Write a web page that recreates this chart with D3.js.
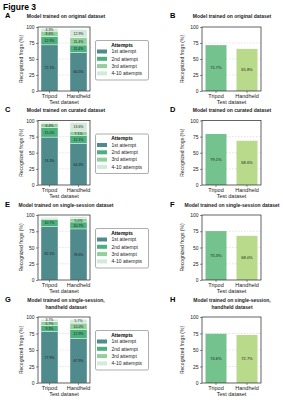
<!DOCTYPE html>
<html>
<head>
<meta charset="utf-8">
<script src="https://cdn.jsdelivr.net/npm/d3@7"></script>
<style>
  body { margin: 0; background: #fff; }
  svg { display: block; font-family: "Liberation Sans", Arial, sans-serif; }
</style>
</head>
<body>
<div id="chart"></div>
<script>
// data
const testSets = ["Tripod", "Handheld"];
const attempts = ["1st attempt", "2nd attempt", "3rd attempt", "4-10 attempts"];
const yTicks = [0, 25, 50, 75, 100];

// stacked: [1st, 2nd, 3rd, 4-10] per test set
const originalStacked = [[72.1, 12.9, 8.6, 4.3], [60.5, 11.4, 11.4, 12.9]];
const curatedStacked = [[74.3, 15.0, 6.4, 1.7], [64.3, 12.1, 7.1, 13.6]];
const sessionStacked = [[82.1, 10.7, 2.1, 1.5], [78.6, 10.7, 5.0, 2.9]];
const handheldStacked = [[77.9, 9.3, 5.7, 3.7], [67.9, 12.9, 10.0, 5.7]];

// totals
const originalTotal = [71.7, 65.8];
const curatedTotal = [79.1, 68.6];
const sessionTotal = [75.3, 68.0];
const handheldTotal = [74.6, 72.7];

const titleOriginal = ["Model trained on original dataset"];
const titleCurated = ["Model trained on curated dataset"];
const titleSession = ["Model trained on single-session dataset"];
const titleHandheld = ["Model trained on single-session,", "handheld dataset"];

const attemptColors = ["#4f8b8d", "#4cb07c", "#90d09b", "#d3e9da"];
const setColors = ["#74c38e", "#b9da8a"];

const W = 283, H = 400;
const svg = d3.select("#chart").append("svg")
  .attr("width", W).attr("height", H);

svg.append("text")
  .attr("x", 3).attr("y", 10)
  .attr("font-size", 8.5).attr("font-weight", "bold")
  .text("Figure 3");

const rows = [
  {labels: ["A", "B"], titles: titleOriginal, stacked: originalStacked, totals: originalTotal, top: 27, bottom: 91, titleY: 17.5},
  {labels: ["C", "D"], titles: titleCurated, stacked: curatedStacked, totals: curatedTotal, top: 120.5, bottom: 185, titleY: 111.5},
  {labels: ["E", "F"], titles: titleSession, stacked: sessionStacked, totals: sessionTotal, top: 215, bottom: 280, titleY: 206.5},
  {labels: ["G", "H"], titles: titleHandheld, stacked: handheldStacked, totals: handheldTotal, top: 317, bottom: 383, titleY: 301.5}
];

const fmt = v => v.toFixed(1) + "%";

function frame(g, x0, x1, r) {
  const y = d3.scaleLinear().domain([0, 100]).range([r.bottom, r.top]);
  g.selectAll(".grid").data([25, 50, 75]).enter().append("line")
    .attr("x1", x0).attr("x2", x1)
    .attr("y1", d => y(d)).attr("y2", d => y(d))
    .attr("stroke", "#c8c8c8").attr("stroke-width", 0.5)
    .attr("stroke-dasharray", "1.5,1.5");
  return y;
}

function axes(g, x, y, x0, x1, r, axLabelX) {
  const yAxis = g.append("g")
    .attr("transform", `translate(${x0},0)`)
    .call(d3.axisLeft(y).tickValues(yTicks).tickSize(2).tickPadding(1.5));
  yAxis.select(".domain").remove();
  yAxis.selectAll("line").attr("stroke", "#222").attr("stroke-width", 0.5);
  yAxis.selectAll("text").attr("font-size", 5).attr("fill", "#222");

  const xAxis = g.append("g")
    .attr("transform", `translate(0,${r.bottom})`)
    .call(d3.axisBottom(x).tickSize(2).tickPadding(1));
  xAxis.select(".domain").remove();
  xAxis.selectAll("line").attr("stroke", "#222").attr("stroke-width", 0.5);
  xAxis.selectAll("text").attr("font-size", 5.5).attr("fill", "#222");

  g.append("rect")
    .attr("x", x0).attr("y", r.top)
    .attr("width", x1 - x0).attr("height", r.bottom - r.top)
    .attr("fill", "none").attr("stroke", "#222").attr("stroke-width", 0.7);

  g.append("text")
    .attr("transform", `translate(${axLabelX},${(r.top + r.bottom) / 2}) rotate(-90)`)
    .attr("text-anchor", "middle").attr("font-size", 5).attr("fill", "#222")
    .text("Recognized frogs (%)");

  g.append("text")
    .attr("x", (x0 + x1) / 2).attr("y", r.bottom + 12.5)
    .attr("text-anchor", "middle").attr("font-size", 5.5).attr("fill", "#222")
    .text("Test dataset");
}

function titleBlock(g, cx, r, labelX, label) {
  g.append("text")
    .attr("x", labelX).attr("y", r.titleY + 0.5)
    .attr("font-size", 7.5).attr("font-weight", "bold")
    .text(label);
  r.titles.forEach((t, i) => {
    g.append("text")
      .attr("x", cx).attr("y", r.titleY + i * 7.5)
      .attr("text-anchor", "middle").attr("font-size", 5).attr("font-weight", "bold")
      .attr("fill", "#222")
      .text(t);
  });
}

function drawStacked(r) {
  const x0 = 38, x1 = 90;
  const g = svg.append("g");
  titleBlock(g, 66, r, 5, r.labels[0]);
  const x = d3.scaleBand().domain(testSets).range([x0, x1])
    .paddingInner(0.414).paddingOuter(0.103);
  const y = frame(g, x0, x1, r);

  const rowsData = testSets.map((s, i) => {
    const o = {set: s};
    attempts.forEach((a, j) => o[a] = r.stacked[i][j]);
    return o;
  });
  const series = d3.stack().keys(attempts)(rowsData);
  const color = d3.scaleOrdinal().domain(attempts).range(attemptColors);

  const layer = g.selectAll(".layer").data(series).enter().append("g")
    .attr("fill", d => color(d.key));
  layer.selectAll("rect").data(d => d).enter().append("rect")
    .attr("x", d => x(d.data.set))
    .attr("width", x.bandwidth())
    .attr("y", d => y(d[1]))
    .attr("height", d => y(d[0]) - y(d[1]))
    .attr("stroke", "#fff").attr("stroke-width", 0.4);

  // labels, pushed apart where segments are thin
  const labels = [];
  testSets.forEach((s, i) => {
    let prev = Infinity;
    series.forEach(ser => {
      const p = ser[i];
      if (p[1] - p[0] < 3.5) return;
      let cy = (y(p[0]) + y(p[1])) / 2 + 1.3;
      if (cy > prev - 3.4) cy = prev - 3.4;
      prev = cy;
      labels.push({x: x(s) + x.bandwidth() / 2, y: cy, t: fmt(p[1] - p[0])});
    });
  });
  g.selectAll(".seglbl").data(labels).enter().append("text")
    .attr("x", d => d.x).attr("y", d => d.y)
    .attr("text-anchor", "middle").attr("font-size", 3.5)
    .attr("fill", "#1a1a1a")
    .text(d => d.t);

  axes(g, x, y, x0, x1, r, 22.5);

  // legend
  const ly = r.top + 13.5;
  const lg = g.append("g").attr("transform", `translate(95.5,${ly})`);
  lg.append("rect").attr("width", 53).attr("height", 39.5)
    .attr("rx", 1.5).attr("fill", "#fff")
    .attr("stroke", "#777").attr("stroke-width", 0.6);
  lg.append("text").attr("x", 26.5).attr("y", 6)
    .attr("text-anchor", "middle").attr("font-size", 5).attr("font-weight", "bold")
    .text("Attempts");
  const items = lg.selectAll(".item").data(attempts).enter().append("g")
    .attr("transform", (d, i) => `translate(0,${11 + i * 7.3})`);
  items.append("rect").attr("x", 1.5).attr("y", -2).attr("width", 10).attr("height", 4)
    .attr("fill", d => color(d));
  items.append("text").attr("x", 16).attr("y", 1.8)
    .attr("font-size", 5).attr("fill", "#222").text(d => d);
}

function drawTotals(r) {
  const x0 = 202, x1 = 261;
  const g = svg.append("g");
  titleBlock(g, 232, r, 170, r.labels[1]);
  const x = d3.scaleBand().domain(testSets).range([x0, x1])
    .paddingInner(0.323).paddingOuter(0.113);
  const y = frame(g, x0, x1, r);
  const vals = testSets.map((s, i) => ({set: s, v: r.totals[i], c: setColors[i]}));

  g.selectAll(".bar").data(vals).enter().append("rect")
    .attr("x", d => x(d.set)).attr("width", x.bandwidth())
    .attr("y", d => y(d.v)).attr("height", d => y(0) - y(d.v))
    .attr("fill", d => d.c);
  g.selectAll(".lbl").data(vals).enter().append("text")
    .attr("x", d => x(d.set) + x.bandwidth() / 2)
    .attr("y", d => (y(0) + y(d.v)) / 2 + 1.4)
    .attr("text-anchor", "middle").attr("font-size", 4).attr("fill", "#1a1a1a")
    .text(d => fmt(d.v));

  axes(g, x, y, x0, x1, r, 183.5);
}

rows.forEach(r => { drawStacked(r); drawTotals(r); });
</script>
</body>
</html>
